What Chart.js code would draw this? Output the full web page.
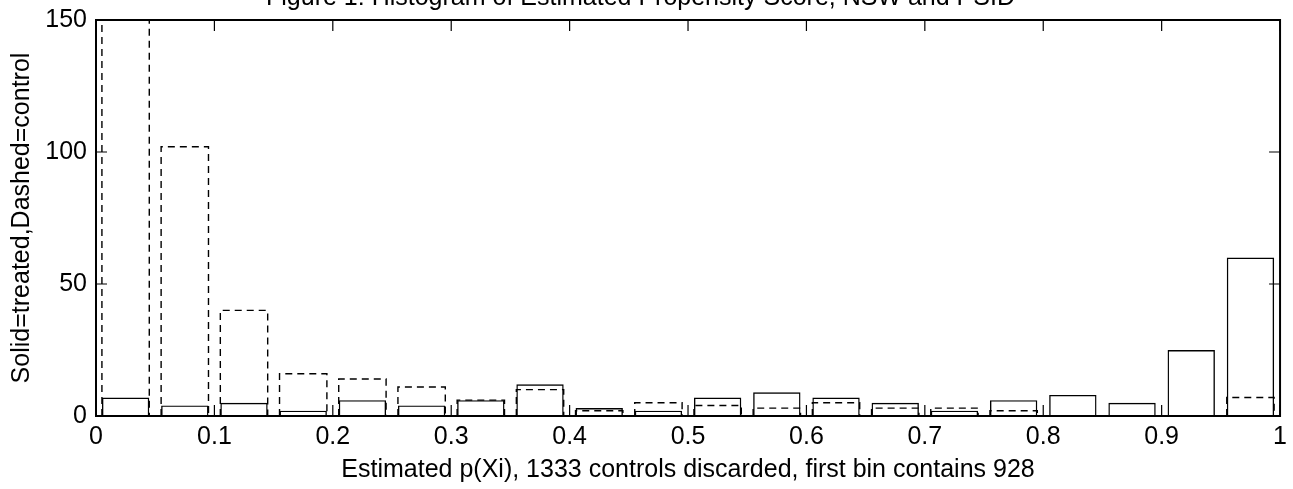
<!DOCTYPE html>
<html>
<head>
<meta charset="utf-8">
<script src="https://cdn.jsdelivr.net/npm/chart.js@4.4.1/dist/chart.umd.min.js"></script>
<style>
  html, body { margin: 0; padding: 0; background: #fff; overflow: hidden; }
  #wrap { position: absolute; left: 0; top: -24px; width: 1293px; height: 513px; }
</style>
</head>
<body>
<div id="wrap"><canvas id="chart"></canvas></div>
<script>
// bin centres of the propensity score histogram (20 bins of width 0.05)
const binCenters = [0.025, 0.075, 0.125, 0.175, 0.225, 0.275, 0.325, 0.375, 0.425, 0.475,
                    0.525, 0.575, 0.625, 0.675, 0.725, 0.775, 0.825, 0.875, 0.925, 0.975];
const treated = [7, 4, 5, 2, 6, 4, 6, 12, 3, 2, 7, 9, 7, 5, 2, 6, 8, 5, 25, 60];
const control = [928, 102, 40, 16, 14, 11, 6, 10, 2, 5, 4, 3, 5, 3, 3, 2, 0, 0, 0, 7];
const xTicks = [0, 0.1, 0.2, 0.3, 0.4, 0.5, 0.6, 0.7, 0.8, 0.9, 1];
const yTicks = [0, 50, 100, 150];

const FONT = "'Liberation Sans', Arial, Helvetica, sans-serif";
const FS = 25;

function toPoints(values) {
  return binCenters.map((x, i) => ({ x, y: values[i] }));
}

// matlab style box with inward ticks, plus dashed outlines for the control bars
const matlabBox = {
  id: "matlabBox",
  afterDatasetsDraw(chart) {
    const { ctx, chartArea: a, scales } = chart;
    ctx.save();
    ctx.beginPath();
    ctx.rect(a.left, a.top, a.right - a.left, a.bottom - a.top);
    ctx.clip();
    ctx.strokeStyle = "#000";
    ctx.lineWidth = 1.4;
    ctx.setLineDash([7, 5]);
    chart.getDatasetMeta(1).data.forEach((bar) => {
      const p = bar.getProps(["x", "y", "base", "width"], true);
      if (p.base - p.y < 0.5) return;
      const l = p.x - p.width / 2;
      const r = p.x + p.width / 2;
      ctx.beginPath();
      ctx.moveTo(l, p.base);
      ctx.lineTo(l, p.y);
      ctx.lineTo(r, p.y);
      ctx.lineTo(r, p.base);
      ctx.stroke();
    });
    ctx.restore();

    ctx.save();
    ctx.strokeStyle = "#000";
    ctx.lineWidth = 2;
    ctx.strokeRect(a.left, a.top, a.right - a.left, a.bottom - a.top);
    ctx.lineWidth = 1.2;
    const len = 11;
    scales.x.ticks.forEach((t) => {
      const px = scales.x.getPixelForValue(t.value);
      ctx.beginPath();
      ctx.moveTo(px, a.bottom);
      ctx.lineTo(px, a.bottom - len);
      ctx.moveTo(px, a.top);
      ctx.lineTo(px, a.top + len);
      ctx.stroke();
    });
    scales.y.ticks.forEach((t) => {
      const py = scales.y.getPixelForValue(t.value);
      ctx.beginPath();
      ctx.moveTo(a.left, py);
      ctx.lineTo(a.left + len, py);
      ctx.moveTo(a.right, py);
      ctx.lineTo(a.right - len, py);
      ctx.stroke();
    });
    ctx.restore();
  }
};

new Chart(document.getElementById("chart"), {
  type: "bar",
  data: {
    datasets: [
      {
        label: "treated",
        data: toPoints(treated),
        backgroundColor: "rgba(0,0,0,0)",
        borderColor: "#000",
        borderWidth: 1.4,
        borderSkipped: "start"
      },
      {
        label: "control",
        data: toPoints(control),
        backgroundColor: "rgba(0,0,0,0)",
        borderWidth: 0
      }
    ]
  },
  options: {
    responsive: true,
    maintainAspectRatio: false,
    animation: false,
    grouped: false,
    barPercentage: 0.8,
    categoryPercentage: 1,
    layout: { padding: { left: 0, right: 12, top: 0, bottom: 0 } },
    plugins: {
      legend: { display: false },
      tooltip: { enabled: false },
      title: {
        display: true,
        text: "Figure 1: Histogram of Estimated Propensity Score, NSW and PSID",
        color: "#000",
        font: { family: FONT, size: FS, weight: "normal" },
        padding: { top: 7, bottom: 7 }
      }
    },
    scales: {
      x: {
        type: "linear",
        min: 0,
        max: 1,
        offset: false,
        afterBuildTicks(scale) {
          scale.ticks = xTicks.map((v) => ({ value: v }));
        },
        afterFit(scale) {
          scale.height = 73;
        },
        ticks: {
          color: "#000",
          padding: 6,
          maxRotation: 0,
          autoSkip: false,
          font: { family: FONT, size: FS },
          callback: (v) => String(v)
        },
        grid: { display: false, drawTicks: false, tickLength: 0 },
        border: { display: false },
        title: {
          display: true,
          text: "Estimated p(Xi), 1333 controls discarded, first bin contains 928",
          color: "#000",
          font: { family: FONT, size: FS },
          padding: { top: 0, bottom: 4 }
        }
      },
      y: {
        min: 0,
        max: 150,
        afterBuildTicks(scale) {
          scale.ticks = yTicks.map((v) => ({ value: v }));
        },
        afterFit(scale) {
          scale.width = 96;
        },
        ticks: {
          color: "#000",
          padding: 9,
          font: { family: FONT, size: FS }
        },
        grid: { display: false, drawTicks: false, tickLength: 0 },
        border: { display: false },
        title: {
          display: true,
          text: "Solid=treated,Dashed=control",
          color: "#000",
          font: { family: FONT, size: FS },
          padding: { top: 7, bottom: 0 }
        }
      }
    }
  },
  plugins: [matlabBox]
});
</script>
</body>
</html>
